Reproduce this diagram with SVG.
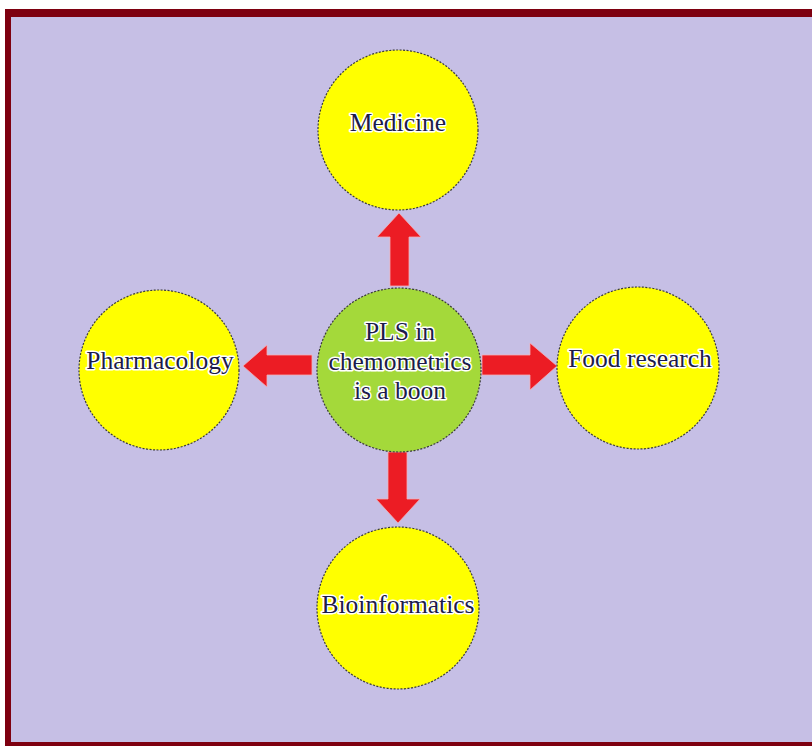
<svg xmlns="http://www.w3.org/2000/svg" width="812" height="747" viewBox="0 0 812 747">
<style>
.node{stroke:#3a3a3a;stroke-width:1.2;stroke-dasharray:2 1.5}
.outer{fill:#FFFF00}
.core{fill:#A4D93A}
.lbl{font-family:"Liberation Serif","DejaVu Serif",serif;font-size:25.5px;fill:#1C1C4A;text-anchor:middle;stroke:#ffffff;stroke-width:3;stroke-linejoin:round;paint-order:stroke}
.arrow{fill:#EC1C24;stroke:#f4b0b8;stroke-width:0.8}
</style>
<rect x="0" y="0" width="812" height="747" fill="#ffffff"/>
<rect x="5" y="9" width="807" height="737" fill="#7E0010"/>
<rect x="11" y="17" width="801" height="725" fill="#C6BFE5"/>
<g id="connectors">
<polygon class="arrow" points="390,286 390,237 377,237 399,213 421,237 409,237 409,286"/>
<polygon class="arrow" points="388,452 388,499 376,499 398,523 420,499 407,499 407,452"/>
<polygon class="arrow" points="312,355 267,355 267,345 243,366 267,387 267,375 312,375"/>
<polygon class="arrow" points="482,355 530,355 530,343 557,366 530,390 530,375 482,375"/>
</g>
<g id="medicine"><circle class="node outer" cx="398" cy="130" r="80"/><text class="lbl" x="398" y="131">Medicine</text></g>
<g id="center"><circle class="node core" cx="399" cy="370" r="82"/>
<text class="lbl" x="400" y="340">PLS in</text><text class="lbl" x="400" y="370">chemometrics</text><text class="lbl" x="400" y="399">is a boon</text></g>
<g id="pharmacology"><circle class="node outer" cx="159" cy="370" r="80"/><text class="lbl" x="160" y="369">Pharmacology</text></g>
<g id="food"><circle class="node outer" cx="638" cy="368" r="81"/><text class="lbl" x="640" y="367">Food research</text></g>
<g id="bioinformatics"><circle class="node outer" cx="398" cy="608" r="81"/><text class="lbl" x="398" y="613">Bioinformatics</text></g>
</svg>
